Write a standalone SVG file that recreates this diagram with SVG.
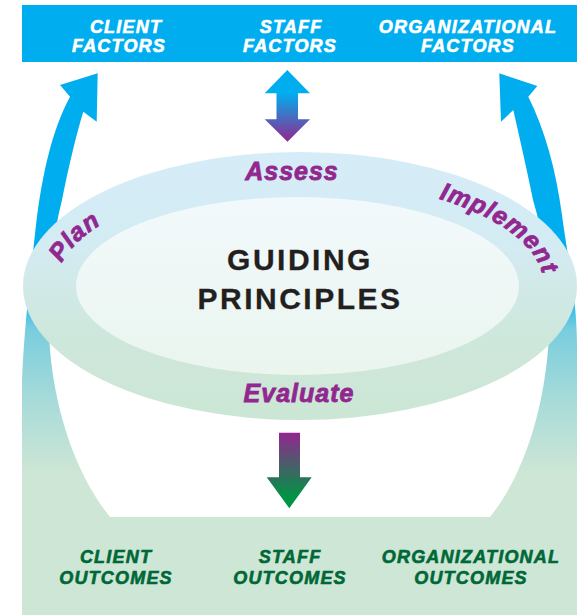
<svg xmlns="http://www.w3.org/2000/svg" width="582" height="615" viewBox="0 0 582 615">
  <defs>
    <linearGradient id="bandGrad" gradientUnits="userSpaceOnUse" x1="0" y1="70" x2="0" y2="517">
      <stop offset="0" stop-color="#00AEEF"/>
      <stop offset="0.49" stop-color="#00AEEF"/>
      <stop offset="0.58" stop-color="#78CDDE"/>
      <stop offset="0.74" stop-color="#A8DBD9"/>
      <stop offset="0.9" stop-color="#CDE6D5"/>
      <stop offset="1" stop-color="#CDE6D5"/>
    </linearGradient>
    <linearGradient id="outerGrad" gradientUnits="userSpaceOnUse" x1="0" y1="152" x2="0" y2="420">
      <stop offset="0" stop-color="#D6EDF9"/>
      <stop offset="0.35" stop-color="#D3EBF2"/>
      <stop offset="0.7" stop-color="#CEE7DB"/>
      <stop offset="1" stop-color="#CCE6D5"/>
    </linearGradient>
    <linearGradient id="innerGrad" gradientUnits="userSpaceOnUse" x1="0" y1="197" x2="0" y2="375">
      <stop offset="0" stop-color="#F2F9FC"/>
      <stop offset="1" stop-color="#EAF5EE"/>
    </linearGradient>
    <linearGradient id="staffGrad" gradientUnits="userSpaceOnUse" x1="0" y1="70" x2="0" y2="142">
      <stop offset="0" stop-color="#00AEEF"/>
      <stop offset="0.32" stop-color="#00AEEF"/>
      <stop offset="1" stop-color="#92278F"/>
    </linearGradient>
    <linearGradient id="evalGrad" gradientUnits="userSpaceOnUse" x1="0" y1="433" x2="0" y2="508">
      <stop offset="0" stop-color="#92278F"/>
      <stop offset="0.85" stop-color="#009444"/>
      <stop offset="1" stop-color="#009444"/>
    </linearGradient>
    <path id="arcBase" d="M 56,286 A 244,106 0 0 1 544,286"/>
    <style>
      .hdr { font-family: "Liberation Sans", Arial, sans-serif; font-weight: bold; font-style: italic; font-size: 18px; letter-spacing: 1.2px; fill: #FFFFFF; stroke: #FFFFFF; stroke-width: 0.6px; text-anchor: middle; }
      .out { font-family: "Liberation Sans", Arial, sans-serif; font-weight: bold; font-style: italic; font-size: 18px; letter-spacing: 1.2px; fill: #006837; stroke: #006837; stroke-width: 0.6px; text-anchor: middle; }
      .step { font-family: "Liberation Sans", Arial, sans-serif; font-weight: bold; font-style: italic; font-size: 25px; letter-spacing: 1px; fill: #92278F; stroke: #92278F; stroke-width: 0.8px; text-anchor: middle; }
      .gp { font-family: "Liberation Sans", Arial, sans-serif; font-weight: bold; font-size: 30px; letter-spacing: 2.5px; fill: #231F20; stroke: #231F20; stroke-width: 0.3px; text-anchor: middle; }
    </style>
  </defs>

  <!-- feedback bands (connectors from outcomes back up to factors) -->
  <g id="connectors">
    <path id="left-feedback" fill="url(#bandGrad)" d="M 97.7,73.3 L 96.7,121.7 L 83.3,111.7 C 76,135 68,170 62,200 C 52,240 45,290 50,350 C 56,420 80,480 110,517 L 22,517 L 22,380 C 24,330 30,280 36,225 C 42,175 52,130 70,96.7 L 60,85 Z"/>
    <path id="right-feedback" fill="url(#bandGrad)" d="M 499.3,73.3 L 537.3,86 L 528.3,96.7 C 545,130 556,170 562,215 C 568,260 577,300 577,345 L 577,517 L 490,517 C 520,480 542,420 548,350 C 553,290 545,240 533,200 C 527,170 520,140 513.3,110 L 501,121.7 Z"/>
  </g>

  <!-- outcomes -->
  <g id="outcomes">
    <rect x="22" y="517" width="555" height="98" fill="#CDE6D5"/>
    <g id="client-outcomes">
      <text class="out" x="116" y="563">CLIENT</text>
      <text class="out" x="116" y="584">OUTCOMES</text>
    </g>
    <g id="staff-outcomes">
      <text class="out" x="290" y="563">STAFF</text>
      <text class="out" x="290" y="584">OUTCOMES</text>
    </g>
    <g id="organizational-outcomes">
      <text class="out" x="471" y="563">ORGANIZATIONAL</text>
      <text class="out" x="471" y="584">OUTCOMES</text>
    </g>
  </g>

  <!-- factors -->
  <g id="factors">
    <rect x="22" y="5" width="555" height="57" fill="#00AEEF"/>
    <g id="client-factors">
      <text class="hdr" x="126" y="33">CLIENT</text>
      <text class="hdr" x="119" y="52">FACTORS</text>
    </g>
    <g id="staff-factors">
      <text class="hdr" x="291" y="33">STAFF</text>
      <text class="hdr" x="290" y="52">FACTORS</text>
    </g>
    <g id="organizational-factors">
      <text class="hdr" x="468" y="33">ORGANIZATIONAL</text>
      <text class="hdr" x="468" y="52">FACTORS</text>
    </g>
  </g>

  <!-- guiding principles cycle -->
  <g id="guiding-principles">
    <ellipse cx="300" cy="286" rx="277" ry="134" fill="url(#outerGrad)"/>
    <ellipse cx="297.5" cy="286" rx="221.5" ry="89" fill="url(#innerGrad)"/>
    <text class="gp" x="300" y="270">GUIDING</text>
    <text class="gp" x="300" y="309">PRINCIPLES</text>
    <g id="step-assess"><text class="step" x="292" y="180">Assess</text></g>
    <g id="step-plan"><text class="step"><textPath href="#arcBase" startOffset="52">Plan</textPath></text></g>
    <g id="step-implement"><text class="step"><textPath href="#arcBase" startOffset="493">Implement</textPath></text></g>
    <g id="step-evaluate"><text class="step" x="299" y="401.7">Evaluate</text></g>
  </g>

  <g id="connectors-vertical">
    <path id="staff-link" fill="url(#staffGrad)" d="M 287.3,70 L 310,93.3 L 298,93.3 L 298,119.3 L 310,119.3 L 287.5,141.7 L 264.7,119.3 L 276.5,119.3 L 276.5,93.3 L 264.7,93.3 Z"/>
    <path id="evaluate-link" fill="url(#evalGrad)" d="M 279,432.7 L 300,432.7 L 300,477.3 L 311.7,477.3 L 289.3,508.3 L 266.7,477.3 L 279,477.3 Z"/>
  </g>
</svg>
